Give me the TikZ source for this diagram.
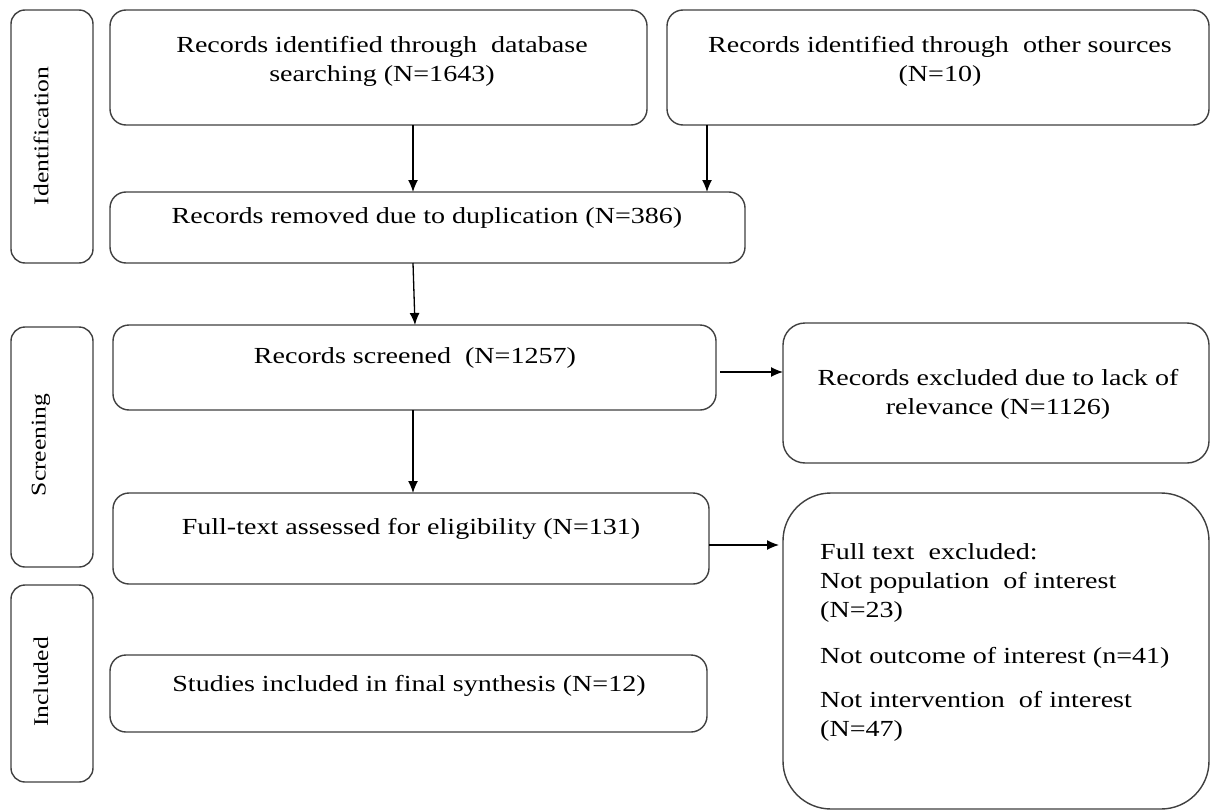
\documentclass[tikz,border=0pt]{standalone}
\usepackage{fontspec}
\setmainfont{Liberation Serif}[FakeStretch=1.22]
\usetikzlibrary{arrows.meta}
\tikzset{
  box/.style={draw=black!75, line width=1.4pt, rounded corners=16pt, fill=white},
  side/.style={draw=black!75, line width=1.4pt, rounded corners=14pt},
  txt/.style={align=center, font=\fontsize{23}{29}\selectfont, inner sep=0pt},
  sidetxt/.style={rotate=90, font=\fontsize{21}{25}\selectfont, inner sep=0pt},
  arr/.style={-{Latex[length=12pt,width=10pt]}, line width=1.3pt, black}
}
\begin{document}
\begin{tikzpicture}[x=1pt,y=-1pt]
\useasboundingbox[fill=white] (0,0) rectangle (1211,811);
% side labels
\draw[side] (11,10) rectangle (93,263);
\node[sidetxt] (lid) at (41,136) {Identification};
\draw[side] (11,327) rectangle (93,567);
\node[sidetxt] (lsc) at (41,445) {Screening};
\draw[side] (11,585) rectangle (93,782);
\node[sidetxt] (lin) at (41,682) {Included};
% boxes
\draw[box] (110,10) rectangle (647,125);
\node[txt] (ta) at (382,61) {Records identified through\ \ database\\searching (N=1643)};
\draw[box] (667,10) rectangle (1209,125);
\node[txt] (tb) at (940,61) {Records identified through\ \ other sources\\(N=10)};
\draw[box] (110,192) rectangle (745,263);
\node[txt] (td) at (427,218) {Records removed due to duplication (N=386)};
\draw[box] (113,325) rectangle (716,410);
\node[txt] (ts) at (415,358) {Records screened\ \ (N=1257)};
\draw[box, rounded corners=22pt] (783,323) rectangle (1209,463);
\node[txt] (te) at (998,394) {Records excluded\ due to lack of\\relevance (N=1126)};
\draw[box] (113,493) rectangle (709,584);
\node[txt] (tf) at (411,529) {Full-text assessed for eligibility (N=131)};
\draw[box, rounded corners=48pt] (783,493) rectangle (1209,809);
\node[txt, align=left, anchor=north west] (tx) at (820,543) {Full text\ \ excluded:\\Not population\ \ of interest\\(N=23)\\[17pt]Not outcome of interest\ (n=41)\\[15pt]Not intervention\ \ of interest\\(N=47)};
\draw[box] (110,655) rectangle (707,732);
\node[txt] (tt) at (409,686) {Studies included in final synthesis (N=12)};
% arrows
\coordinate (a1) at (413,125); \coordinate (a2) at (413,192);
\coordinate (b1) at (707,125); \coordinate (b2) at (707,192);
\coordinate (d1) at (413,263); \coordinate (d2) at (415,325);
\coordinate (s1) at (720,372); \coordinate (s2) at (783,372);
\coordinate (s3) at (413,410); \coordinate (s4) at (413,493);
\coordinate (f1) at (709,545); \coordinate (f2) at (779,545);
\draw[arr] (a1) -- (a2);
\draw[arr] (b1) -- (b2);
\draw[arr] (d1) -- (d2);
\draw[arr] (s1) -- (s2);
\draw[arr] (s3) -- (s4);
\draw[arr] (f1) -- (f2);
\end{tikzpicture}
\end{document}
